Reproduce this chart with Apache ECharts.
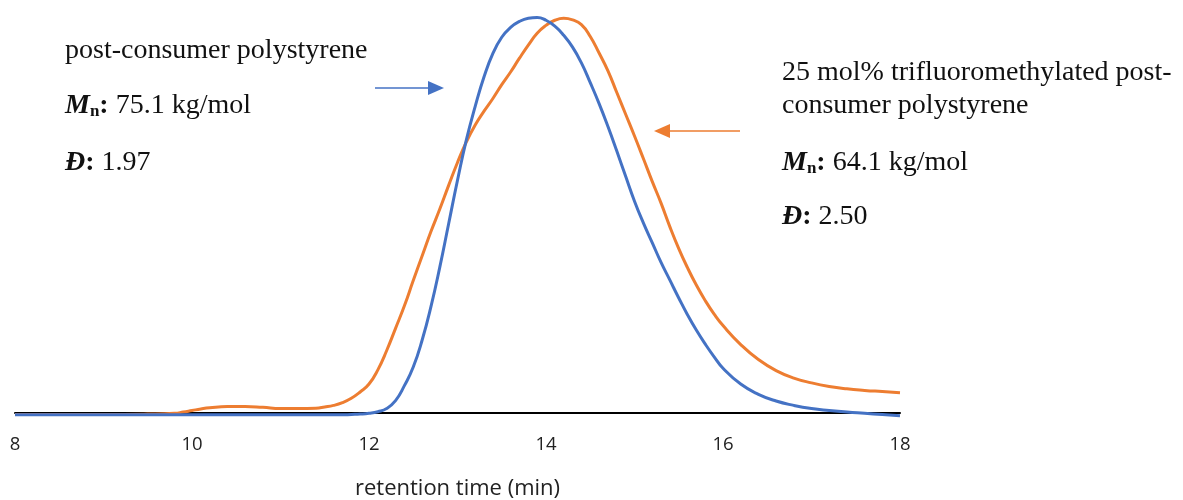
<!DOCTYPE html>
<html>
<head>
<meta charset="utf-8">
<script src="https://cdn.jsdelivr.net/npm/echarts@6/dist/echarts.min.js"></script>
<style>
  html, body { margin: 0; padding: 0; background: #fff; }
  #main { width: 1183px; height: 500px; }
</style>
</head>
<body>
<div id="main"></div>
<script>
// retention time (min), shared sampling for both traces
var retentionTime = [
  8, 9, 9.5, 9.8, 9.9, 10, 10.1, 10.2, 10.4, 10.6, 10.8, 11, 11.2, 11.4, 11.5, 11.6, 11.7, 11.8, 11.9,
  12, 12.1, 12.2, 12.3, 12.4, 12.5, 12.6, 12.7, 12.8, 12.9,
  13, 13.1, 13.2, 13.3, 13.4, 13.5, 13.6, 13.7, 13.8, 13.9,
  14, 14.1, 14.2, 14.3, 14.4, 14.5, 14.6, 14.7, 14.8, 14.9,
  15, 15.1, 15.2, 15.3, 15.4, 15.5, 15.6, 15.7, 15.8, 15.9,
  16, 16.2, 16.4, 16.6, 16.8, 17, 17.2, 17.4, 17.6, 17.8, 18
];

// normalized detector signal, post-consumer polystyrene (blue)
var psSignal = [
  -0.006, -0.006, -0.006, -0.006, -0.006, -0.006, -0.006, -0.006, -0.006, -0.006, -0.006, -0.006, -0.006, -0.006, -0.006, -0.006, -0.006, -0.005, -0.004,
  -0.002, 0.002, 0.01, 0.03, 0.068, 0.115, 0.183, 0.268, 0.368, 0.478,
  0.588, 0.69, 0.775, 0.85, 0.909, 0.95, 0.975, 0.99, 0.998, 1.0,
  0.993, 0.978, 0.955, 0.925, 0.885, 0.835, 0.782, 0.724, 0.662, 0.598,
  0.535, 0.48, 0.43, 0.38, 0.335, 0.29, 0.247, 0.208, 0.173, 0.141,
  0.112, 0.072, 0.046, 0.029, 0.018, 0.01, 0.005, 0.001, -0.002, -0.005, -0.008
];

// normalized detector signal, 25 mol% trifluoromethylated (orange)
var cf3Signal = [
  -0.005, -0.005, -0.004, -0.002, 0.001, 0.005, 0.009, 0.012, 0.015, 0.015, 0.013, 0.01, 0.01, 0.011, 0.014, 0.018, 0.025, 0.036, 0.052,
  0.072, 0.108, 0.157, 0.213, 0.27, 0.334, 0.396, 0.458, 0.515, 0.575,
  0.633, 0.685, 0.728, 0.763, 0.795, 0.83, 0.862, 0.897, 0.93, 0.96,
  0.98, 0.993, 0.998, 0.994, 0.982, 0.952, 0.91, 0.865, 0.81, 0.755,
  0.70, 0.643, 0.585, 0.53, 0.47, 0.415, 0.366, 0.322, 0.283, 0.249,
  0.22, 0.172, 0.134, 0.106, 0.087, 0.075, 0.066, 0.06, 0.056, 0.053, 0.05
];

var xTicks = [8, 10, 12, 14, 16, 18];

var BLUE = '#4472C4';
var ORANGE = '#ED7D31';
var SERIF = '"Liberation Serif", "DejaVu Serif", serif';
var SANS = '"Open Sans", sans-serif';

function pairs(xs, ys) {
  return xs.map(function (x, i) { return [x, ys[i]]; });
}

// rich text styles for the annotation labels
var richStyles = {
  M: { fontFamily: SERIF, fontSize: 28, fontWeight: 'bold', fontStyle: 'italic', fill: '#111' },
  n: { fontFamily: SERIF, fontSize: 17, fontWeight: 'bold', fill: '#111', verticalAlign: 'bottom', padding: [12, 0, 0, 0] },
  b: { fontFamily: SERIF, fontSize: 28, fontWeight: 'bold', fill: '#111' },
  t: { fontFamily: SERIF, fontSize: 28, fill: '#111' }
};

function note(x, y, text) {
  return {
    type: 'text', x: x, y: y, z: 10,
    style: { text: text, rich: richStyles, fontFamily: SERIF, fontSize: 28, fill: '#111', verticalAlign: 'middle' }
  };
}

var myChart = echarts.init(document.getElementById('main'));

var option = {
  animation: false,
  grid: { left: 15, right: 283, top: 17.5, bottom: 87.5, outerBoundsMode: 'none' },
  xAxis: {
    type: 'value',
    min: 8,
    max: 18,
    interval: 2,
    name: 'retention time (min)',
    nameLocation: 'middle',
    nameGap: 65,
    nameTextStyle: { fontFamily: SANS, fontSize: 22, color: '#222' },
    axisLine: { lineStyle: { color: '#000', width: 2 } },
    axisTick: { show: false },
    splitLine: { show: false },
    axisLabel: {
      margin: 23,
      fontFamily: SANS,
      fontSize: 18.5,
      color: '#222',
      customValues: xTicks
    }
  },
  yAxis: { type: 'value', min: 0, max: 1, show: false },
  series: [
    {
      name: '25 mol% trifluoromethylated post-consumer polystyrene',
      type: 'line',
      data: pairs(retentionTime, cf3Signal),
      showSymbol: false,
      smooth: 0.5,
      clip: false,
      lineStyle: { color: ORANGE, width: 3 },
      itemStyle: { color: ORANGE }
    },
    {
      name: 'post-consumer polystyrene',
      type: 'line',
      data: pairs(retentionTime, psSignal),
      showSymbol: false,
      smooth: 0.5,
      clip: false,
      lineStyle: { color: BLUE, width: 3 },
      itemStyle: { color: BLUE }
    }
  ],
  graphic: [
    // left annotation
    note(65, 51, 'post-consumer polystyrene'),
    note(65, 106, '{M|M}{n|n}{b|:}{t| 75.1 kg/mol}'),
    note(65, 163, '{M|Đ}{b|:}{t| 1.97}'),
    { type: 'line', shape: { x1: 375, y1: 88, x2: 430, y2: 88 }, style: { stroke: BLUE, lineWidth: 1.5 } },
    { type: 'polygon', shape: { points: [[428, 81], [444, 88], [428, 95]] }, style: { fill: BLUE } },
    // right annotation
    note(782, 73, '25 mol% trifluoromethylated post-'),
    note(782, 106, 'consumer polystyrene'),
    note(782, 163, '{M|M}{n|n}{b|:}{t| 64.1 kg/mol}'),
    note(782, 217, '{M|Đ}{b|:}{t| 2.50}'),
    { type: 'line', shape: { x1: 740, y1: 131, x2: 668, y2: 131 }, style: { stroke: ORANGE, lineWidth: 1.5 } },
    { type: 'polygon', shape: { points: [[670, 124], [654, 131], [670, 138]] }, style: { fill: ORANGE } }
  ]
};

myChart.setOption(option);
</script>
</body>
</html>
